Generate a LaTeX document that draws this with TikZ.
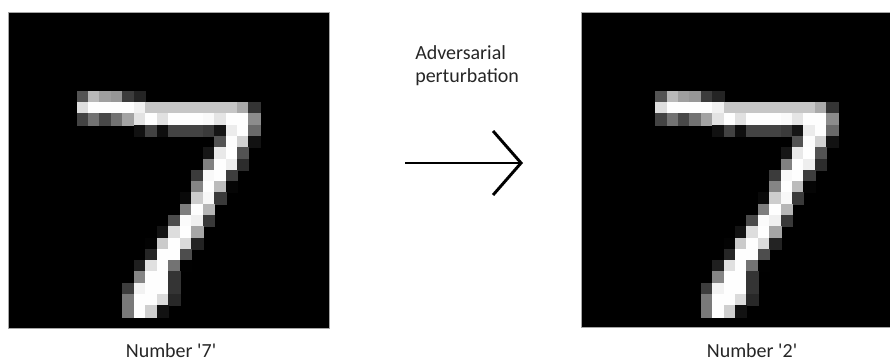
\documentclass[tikz,border=0pt]{standalone}
\usepackage{fontspec}
\setmainfont{Carlito}[Ligatures=TeXOff]
\usetikzlibrary{arrows.meta}

% grey pixels of the digit: row/first column/values
\newcommand{\digitpixels}[3]{% #1 left edge, #2 pixel width, #3 pixel height
	\foreach \rr/\cc/\vals in {
		7/6/{84,185,159,151,60,36},
		8/6/{222,254,254,254,254,241,198,198,198,198,198,198,198,198,170,52},
		9/6/{67,114,72,114,163,227,254,225,254,254,254,250,229,254,254,140},
		10/11/{17,66,14,67,67,67,59,21,236,254,106},
		11/18/{83,253,209,18},
		12/17/{22,233,255,83},
		13/17/{129,254,238,44},
		14/16/{59,249,254,62},
		15/16/{133,254,187,5},
		16/15/{9,205,248,58},
		17/15/{126,254,182},
		18/14/{75,251,240,57},
		19/13/{19,221,254,166},
		20/12/{3,203,254,219,35},
		21/12/{38,254,254,77},
		22/11/{31,224,254,115,1},
		23/11/{133,254,254,52},
		24/10/{61,242,254,254,52},
		25/10/{121,254,254,219,40},
		26/10/{121,254,207,18}}{
		\foreach \v [count=\k from 0] in \vals {
			\pgfmathsetmacro{\shade}{\v/2.55}
			\filldraw[fill=white!\shade!black, draw=white!\shade!black, line width=0.3pt]
				({#1+(\cc+\k)*#2},{12+\rr*#3}) rectangle ++(#2,#3);
		}
	}
}

\begin{document}
\begin{tikzpicture}[x=0.75pt, y=-0.75pt, every node/.style={font=\fontsize{15}{17.25}\selectfont, text=black!85, inner sep=0pt}]
	\useasboundingbox (0,0) rectangle (890,361);

	% the two images
	\filldraw[fill=black, draw=gray!70, line width=0.6pt] (8,12) rectangle (329,328);
	\digitpixels{8}{11.46}{11.29}
	\filldraw[fill=black, draw=gray!70, line width=0.6pt] (581,12) rectangle (891,327);
	\digitpixels{587}{11.4}{11.29}

	\node[anchor=base] (lbl7) at (171,357) {Number '7'};
	\node[anchor=base] (lbl2) at (752,357) {Number '2'};

	\node[anchor=base west, align=left] (adv) at (415,82) {Adversarial\\perturbation};

	\coordinate (arrtail) at (405,163);
	\coordinate (arrhead) at (523,163);
	\draw[line width=1.5pt, -{Straight Barb[length=21pt, width=48pt, line width=2.2pt]}] (arrtail) -- (arrhead);
\end{tikzpicture}
\end{document}
